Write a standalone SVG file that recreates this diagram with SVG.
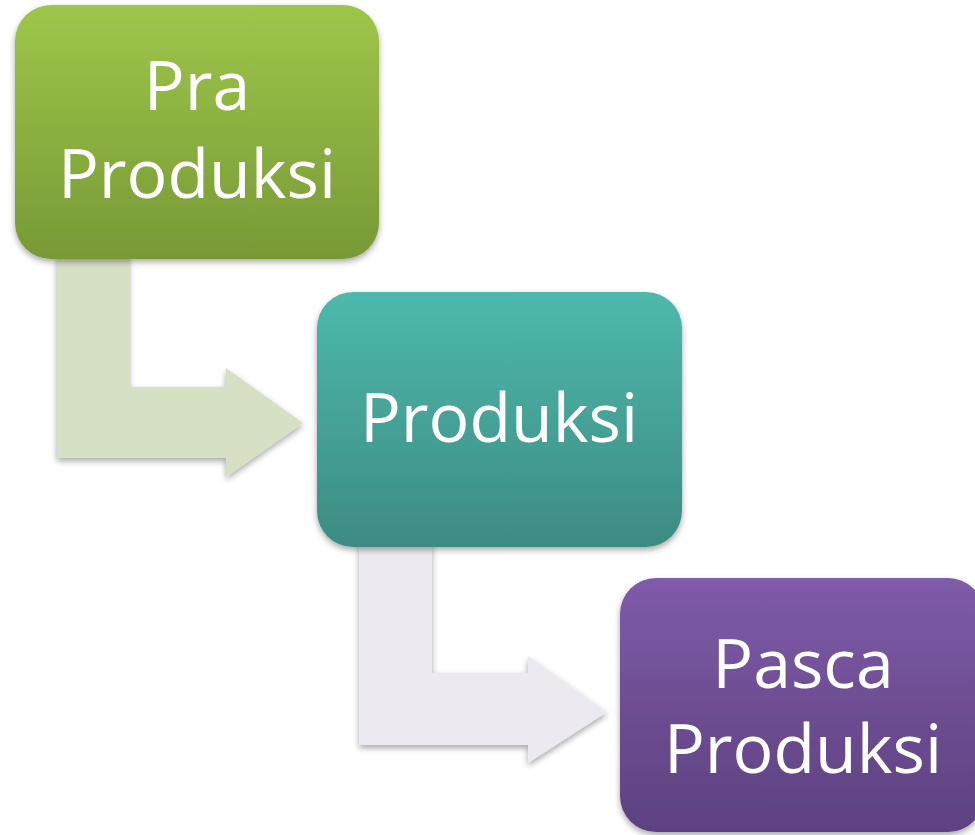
<svg xmlns="http://www.w3.org/2000/svg" width="975" height="835" viewBox="0 0 975 835">
<defs>
<linearGradient id="g1" x1="0" y1="0" x2="0" y2="1"><stop offset="0" stop-color="#9EC64A"/><stop offset="1" stop-color="#789936"/></linearGradient>
<linearGradient id="g2" x1="0" y1="0" x2="0" y2="1"><stop offset="0" stop-color="#4DB9AC"/><stop offset="1" stop-color="#3D8B82"/></linearGradient>
<linearGradient id="g3" x1="0" y1="0" x2="0" y2="1"><stop offset="0" stop-color="#7F5BA9"/><stop offset="1" stop-color="#5D417F"/></linearGradient>
<filter id="sh" x="-10%" y="-10%" width="120%" height="125%"><feGaussianBlur in="SourceAlpha" stdDeviation="3"/><feOffset dx="0" dy="3"/><feComponentTransfer><feFuncA type="linear" slope="0.35"/></feComponentTransfer><feMerge><feMergeNode/><feMergeNode in="SourceGraphic"/></feMerge></filter>
</defs>
<style>
.lbl{font-family:"Open Sans","Noto Sans",sans-serif;font-size:68px;fill:#FFFFFF;text-anchor:middle}
</style>
<g id="connectors">
<path d="M57,255 H129 V387 H226 V368 L303,423 L226,477 V458 H57 Z" fill="#D6E0C4" filter="url(#sh)"/>
<path d="M359,543 H432 V673 H528 V656 L607,712 L528,763 V745 H359 Z" fill="#ECEAF0" filter="url(#sh)"/>
</g>
<g id="node1">
<rect x="15" y="5" width="364" height="254" rx="36" fill="url(#g1)" filter="url(#sh)"/>
<text class="lbl" x="197" y="110">Pra</text>
<text class="lbl" x="197" y="198">Produksi</text>
</g>
<g id="node2">
<rect x="317" y="292" width="365" height="255" rx="36" fill="url(#g2)" filter="url(#sh)"/>
<text class="lbl" x="499" y="442">Produksi</text>
</g>
<g id="node3">
<rect x="620" y="578" width="364" height="254" rx="36" fill="url(#g3)" filter="url(#sh)"/>
<text class="lbl" x="803" y="688">Pasca</text>
<text class="lbl" x="803" y="773">Produksi</text>
</g>
</svg>
